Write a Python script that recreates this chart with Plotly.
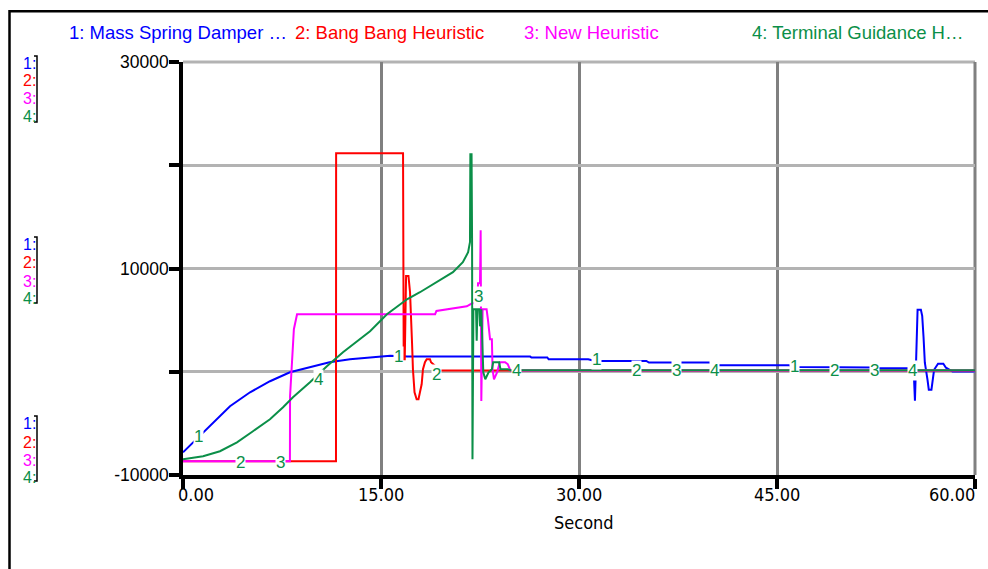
import plotly.graph_objects as go

# ---- series data (time in seconds, values) ----
t_msd = [0, 0.76, 2.05, 3.56, 5.08, 6.59, 8.1, 9.62, 11.1, 12.65, 14.17, 15.7, 17.0,
         26.3, 26.4, 27.6, 27.7, 30.7, 31.2, 35.1, 35.3, 39.9, 40.6, 45.9, 46.6, 49.3,
         49.6, 52.3, 52.7, 55.35, 55.45, 55.65, 55.9, 56.0, 56.1, 56.2, 56.4, 56.5, 56.7,
         56.8, 56.9, 57.2, 57.6, 57.8, 58.3, 60]
v_msd = [-7800, -6830, -5280, -3340, -1990, -920, -50, 440, 920, 1210, 1400, 1550, 1470,
         1470, 1380, 1380, 1210, 1210, 1050, 1050, 890, 890, 630, 630, 460, 460,
         410, 410, 340, 340, -2800, 6000, 6000, 5420, 3390, 870, -770, -1740, -1740,
         -770, 190, 770, 770, 390, 20, 20]

t_bb = [0, 11.59, 11.6, 16.67, 16.72, 16.8, 16.9, 17.08, 17.2, 17.27, 17.35, 17.42,
        17.54, 17.7, 17.84, 17.95, 18.08, 18.18, 18.33, 18.46, 18.71, 18.79, 19.5, 60]
v_bb = [-8670, -8670, 21160, 21160, 1210, 1210, 9280, 9280, 7700, 4120, 2860, 240,
        -1990, -2660, -2660, -1990, -1210, 240, 920, 1210, 1210, 920, 130, 130]

t_nh = [0, 8.1, 8.11, 8.4, 8.64, 19.1, 19.2, 20.76, 21.5, 21.9, 22.3, 22.35, 22.5,
        22.55, 22.6, 22.7, 23.0, 23.1, 23.26, 23.4, 23.45, 23.56, 23.8, 24.0, 24.4,
        24.6, 24.8, 60]
v_nh = [-8670, -8670, -2370, 4120, 5570, 5570, 5890, 6150, 6340, 6630, 6630, 8570,
        8570, 13700, -2830, 6050, 6050, 5080, 3150, 3150, 240, -730, -50, 920, 920,
        730, 130, 130]

t_tg = [0, 1.52, 2.8, 4.09, 5.3, 6.59, 7.58, 8.33, 9.62, 10.9, 12.12, 14.17, 15.45,
        16.97, 17.95, 19.24, 20.45, 21.2, 21.6, 21.74, 21.77, 21.8, 21.83, 21.86, 21.9,
        21.93, 22.0, 22.2, 22.25, 22.3, 22.45, 22.5, 22.6, 22.75, 22.9, 23.15, 23.4,
        23.5, 23.95, 24.05, 24.6, 24.8, 60]
v_tg = [-8470, -8180, -7700, -6830, -5760, -4600, -3440, -2470, -1020, 530, 1890, 3920,
        5570, 7020, 7700, 8670, 9640, 10610, 11570, 12540, 21160, 13000, 21160, 21160,
        12500, -8470, 6050, 6050, 3000, 6050, 6050, 4400, 6050, -50, -730, -50, 240,
        920, 920, 240, 240, 150, 150]

series_names = ["1: Mass Spring Damper \u2026", "2: Bang Bang Heuristic",
                "3: New Heuristic", "4: Terminal Guidance H\u2026"]
series_colors = ["#0000ff", "#ff0000", "#ff00ff", "#0b8f48"]

# curve id markers placed along the lines
mark_t = [1.21, 4.32, 7.42, 10.23, 16.29, 19.24, 22.42, 25.3, 31.36, 34.32, 37.35,
          40.3, 46.36, 49.32, 52.42, 55.3]
mark_v = [-6250, -8770, -8770, -730, 1500, -240, 7310, 150, 1210, 150, 150, 150,
          530, 150, 150, 150]
mark_text = ["1", "2", "3", "4", "1", "2", "3", "4", "1", "2", "3", "4", "1", "2", "3", "4"]

x_tick_vals = [0, 15, 30, 45, 60]
x_tick_text = ["0.00", "15.00", "30.00", "45.00", "60.00"]
y_tick_vals = [-10000, 0, 10000, 20000, 30000]
y_tick_text = ["-10000", "", "10000", "", "30000"]

# ---- layout geometry (pixels) ----
W, H = 988, 569
L, R, T, B = 183, 975, 62, 475
PW, PH = R - L, B - T


def px(xp):
    return (xp - L) / PW


def py(yp):
    return (B - yp) / PH


FONT = "Liberation Sans, Arial, sans-serif"
NARROW = "DejaVu Sans Condensed, Liberation Sans Narrow, sans-serif"

fig = go.Figure()
for t, v, c in zip([t_msd, t_bb, t_nh, t_tg], [v_msd, v_bb, v_nh, v_tg], series_colors):
    fig.add_trace(go.Scatter(x=t, y=v, mode="lines", line=dict(color=c, width=2),
                             hoverinfo="skip", showlegend=False))

ann = []
# series headers along the top
for name, c, xp in zip(series_names, series_colors, [67, 293, 522, 750]):
    ann.append(dict(text=name, xref="paper", yref="paper", x=px(xp), y=py(33),
                    xanchor="left", yanchor="middle", showarrow=False,
                    font=dict(family=FONT, size=18.5, color=c)))

# per-series scale keys on the left
groups = [[63, 80, 98, 117], [244, 262, 281, 298], [423, 442, 460, 477]]
brackets = [(56, 122), (237, 303), (416, 481)]
shapes = []
for g, (b0, b1) in zip(groups, brackets):
    for i, yp in enumerate(g):
        ann.append(dict(text=f"{i + 1}:", xref="paper", yref="paper", x=px(21), y=py(yp),
                        xanchor="left", yanchor="middle", showarrow=False,
                        font=dict(family=FONT, size=16, color=series_colors[i])))
    shapes.append(dict(type="path", xref="paper", yref="paper",
                       path=f"M {px(34)} {py(b0)} L {px(37)} {py(b0)} L {px(37)} {py(b1)} L {px(34)} {py(b1)}",
                       line=dict(color="black", width=1.5)))

# curve id markers
for tx, vy, s in zip(mark_t, mark_v, mark_text):
    ann.append(dict(text=s, x=tx, y=vy, xref="x", yref="y", showarrow=False,
                    bgcolor="white", borderpad=0,
                    font=dict(family=FONT, size=17, color=series_colors[3])))

# x tick labels
for i, (tv, tt) in enumerate(zip(x_tick_vals, x_tick_text)):
    anchor, shift = "center", 0
    if i == 0:
        anchor, shift = "left", -7
    elif i == len(x_tick_vals) - 1:
        anchor, shift = "right", 2
    ann.append(dict(text=tt, x=tv, y=py(494), xref="x", yref="paper", xanchor=anchor,
                    yanchor="middle", xshift=shift, showarrow=False,
                    font=dict(family=NARROW, size=18, color="black")))

ann.append(dict(text="Second", x=px(584), y=py(522), xref="paper", yref="paper",
                xanchor="center", yanchor="middle", showarrow=False,
                font=dict(family=NARROW, size=18, color="black")))

# outer frame
shapes.append(dict(type="rect", xref="paper", yref="paper", x0=px(9.5), x1=px(1010),
                   y0=py(11.3), y1=py(620), line=dict(color="black", width=2.5)))
# top and right borders of the plotting area
shapes.append(dict(type="line", xref="paper", yref="paper", x0=0, x1=1, y0=1, y1=1,
                   line=dict(color="#b3b3b3", width=3), layer="below"))
shapes.append(dict(type="line", xref="paper", yref="paper", x0=1, x1=1, y0=0, y1=1,
                   line=dict(color="#808080", width=3), layer="below"))

fig.update_layout(
    width=W, height=H, autosize=False,
    margin=dict(l=L, r=W - R, t=T, b=H - B, pad=0),
    paper_bgcolor="white", plot_bgcolor="white",
    annotations=ann, shapes=shapes, showlegend=False,
    xaxis=dict(range=[0, 60], tickvals=x_tick_vals, ticktext=x_tick_text,
               showticklabels=False, showgrid=True, gridcolor="#808080", gridwidth=3,
               zeroline=False, showline=True, linecolor="black", linewidth=4,
               ticks="outside", ticklen=10, tickwidth=3.5, tickcolor="black",
               fixedrange=True),
    yaxis=dict(range=[-10000, 30000], tickvals=y_tick_vals, ticktext=y_tick_text,
               showgrid=True, gridcolor="#b3b3b3", gridwidth=3, zeroline=False,
               showline=True, linecolor="black", linewidth=3.5,
               ticks="outside", ticklen=10, tickwidth=3.5, tickcolor="black",
               ticklabelstandoff=-3,
               tickfont=dict(family=FONT, size=17.5, color="black"), fixedrange=True),
)

fig.write_html("out.html")
